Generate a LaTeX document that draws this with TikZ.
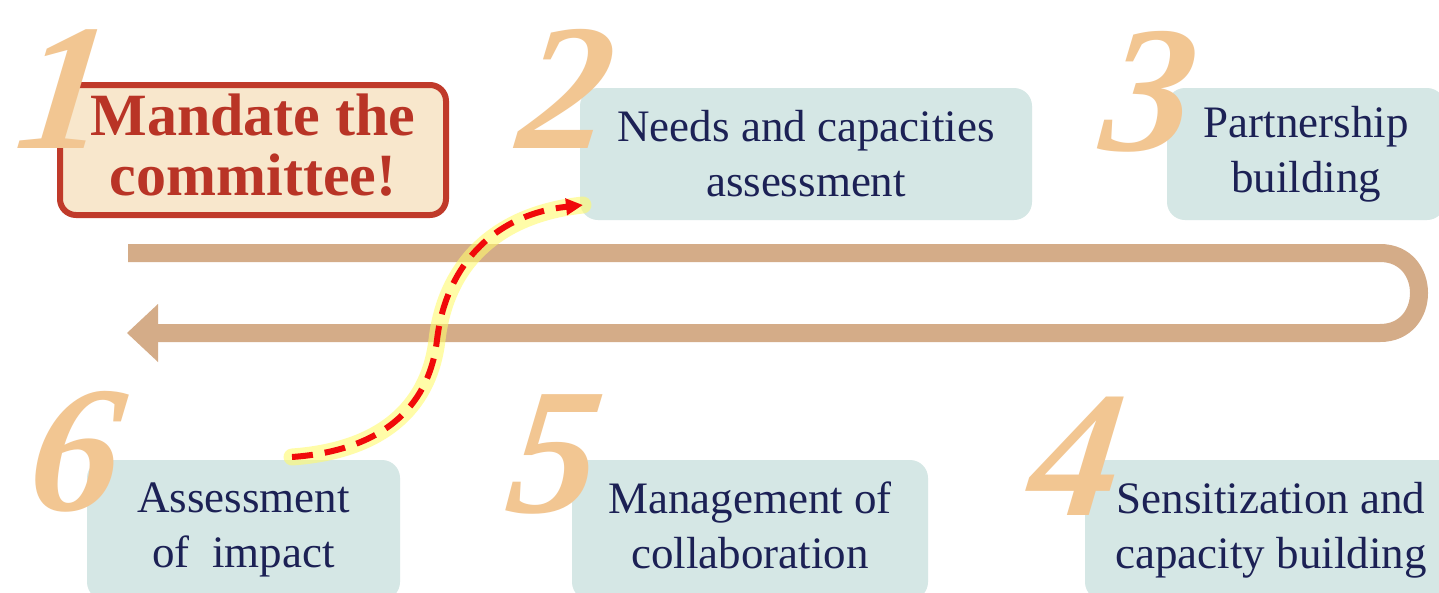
\documentclass[tikz,border=0pt]{standalone}
\usepackage{fontspec}
\setmainfont{Liberation Serif}
\newfontfamily\numfont{Liberation Serif}[BoldItalicFeatures={FakeSlant=0.12}]
\usetikzlibrary{arrows.meta}
\definecolor{trackc}{RGB}{212,172,136}
\definecolor{peachc}{RGB}{242,198,146}
\definecolor{tealc}{RGB}{213,231,229}
\definecolor{navyc}{RGB}{28,33,85}
\definecolor{borderc}{RGB}{192,58,42}
\definecolor{creamc}{RGB}{248,231,204}
\definecolor{mandc}{RGB}{185,52,38}
\definecolor{dashc}{RGB}{240,10,10}
\definecolor{glowc}{RGB}{255,250,110}
\tikzset{
  stepbox/.style={fill=tealc, rounded corners=18pt, inner sep=0pt, align=center,
    text=navyc, font=\fontsize{45}{55}\selectfont},
  bignum/.style={text=peachc, font=\numfont\fontsize{180}{180}\selectfont\bfseries\itshape,
    anchor=base, inner sep=0pt},
  trackline/.style={draw=trackc, line width=18pt},
  glowline/.style={draw=glowc, line width=17pt, opacity=0.6, line cap=round},
  dashline/.style={draw=dashc, line width=6pt, dash pattern=on 21pt off 12pt,
    -{Triangle[length=17pt,width=16pt]}}
}
\begin{document}
\begin{tikzpicture}[x=1pt,y=-1pt]
\useasboundingbox (0,0) rectangle (1439,592);
\clip (0,0) rectangle (1439,592);
\fill[white] (0,0) rectangle (1439,592);

% track
\draw[trackline] (128,253) -- (1380,253) .. controls (1432,253) and (1432,333) .. (1380,333) -- (155,333);
\fill[trackc] (127,333) -- (158,304) -- (158,362) -- cycle;

% boxes
\node[draw=borderc, line width=6pt, fill=creamc, rounded corners=16pt,
  minimum width=386pt, minimum height=130pt, inner sep=0pt, align=center,
  text=mandc, font=\fontsize{60}{60}\selectfont\bfseries]
  (b1) at (253,150) {Mandate the\\committee!\rule[-11pt]{0pt}{11pt}};
\node[stepbox, minimum width=452pt, minimum height=132pt] (b2) at (806,154)
  {Needs and capacities\\assessment};
\node[stepbox, minimum width=278pt, minimum height=132pt] (b3) at (1306,154)
  {Partnership\\building};
\node[stepbox, minimum width=372pt, minimum height=140pt] (b4) at (1271,530)
  {Sensitization and\\capacity building};
\node[stepbox, minimum width=356pt, minimum height=140pt] (b5) at (750,530)
  {Management of\\collaboration\rule[-10pt]{0pt}{10pt}};
\node[stepbox, minimum width=313pt, minimum height=140pt] (b6) at (243.5,530)
  {Assessment\\of\ \ impact};

% numbers
\node[bignum] (n1) at (58,148) {1};
\node[bignum] (n2) at (560,148) {2};
\node[bignum] (n3) at (1143,150) {3};
\node[bignum] (n4) at (1070,515) {4};
\node[bignum] (n5) at (548,512) {5};
\node[bignum] (n6) at (70,510) {6};

% connector from step 6 back to step 2
\coordinate (s) at (292,457);
\coordinate (e) at (583,205);
\draw[glowline] (s) .. controls (390,450) and (430,400) .. (437,340)
  .. controls (445,270) and (490,215) .. (e);
\draw[dashline] (s) .. controls (390,450) and (430,400) .. (437,340)
  .. controls (445,270) and (490,215) .. (e);
\end{tikzpicture}
\end{document}
